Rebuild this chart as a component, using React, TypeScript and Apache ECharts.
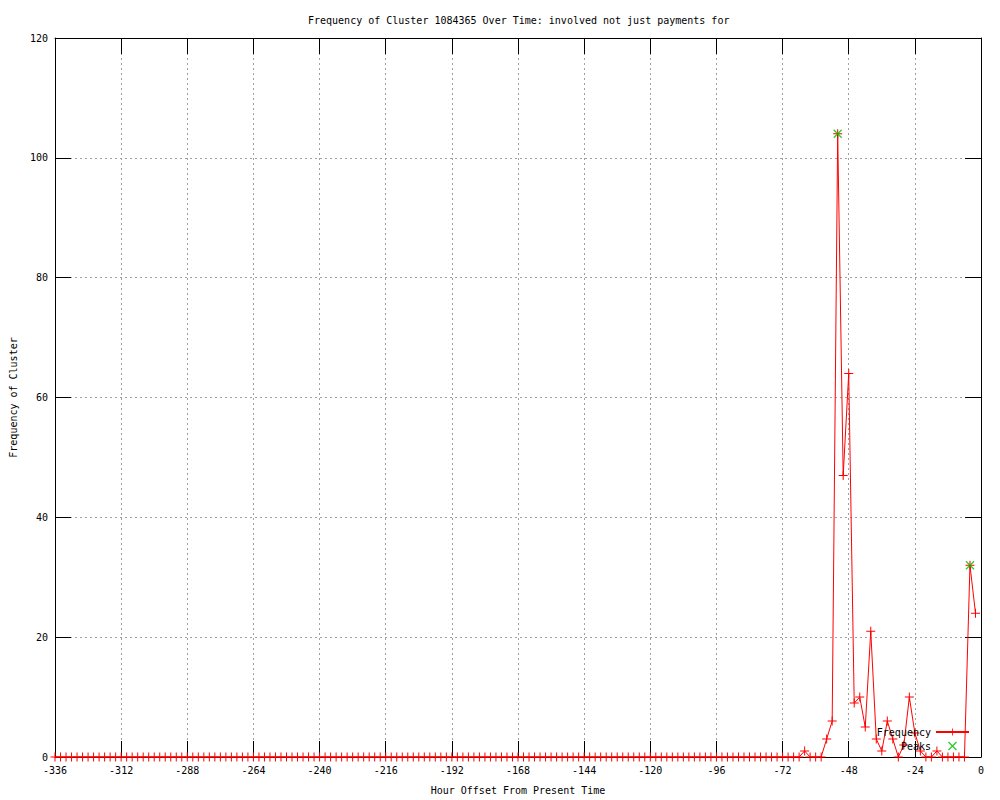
import React, { useEffect, useRef } from "react";
import * as echarts from "echarts";

const FONT = '"DejaVu Sans Mono", "Liberation Mono", monospace';

const titleText = "Frequency of Cluster 1084365 Over Time: involved not just payments for";
const xAxisTitle = "Hour Offset From Present Time";
const yAxisTitle = "Frequency of Cluster";

// sampling of the series: one point every 2 hours starting at -336
const hourStart = -336;
const hourStep = 2;

const frequency = [
  0, 0, 0, 0, 0, 0, 0, 0, 0, 0, 0, 0,
  0, 0, 0, 0, 0, 0, 0, 0, 0, 0, 0, 0,
  0, 0, 0, 0, 0, 0, 0, 0, 0, 0, 0, 0,
  0, 0, 0, 0, 0, 0, 0, 0, 0, 0, 0, 0,
  0, 0, 0, 0, 0, 0, 0, 0, 0, 0, 0, 0,
  0, 0, 0, 0, 0, 0, 0, 0, 0, 0, 0, 0,
  0, 0, 0, 0, 0, 0, 0, 0, 0, 0, 0, 0,
  0, 0, 0, 0, 0, 0, 0, 0, 0, 0, 0, 0,
  0, 0, 0, 0, 0, 0, 0, 0, 0, 0, 0, 0,
  0, 0, 0, 0, 0, 0, 0, 0, 0, 0, 0, 0,
  0, 0, 0, 0, 0, 0, 0, 0, 0, 0, 0, 0,
  0, 0, 0, 0, 1, 0, 0, 0, 3, 6, 104, 47,
  64, 9, 10, 5, 21, 3, 1, 6, 3, 0, 2, 10,
  4, 1, 0, 0, 1, 0, 0, 0, 0, 0, 32, 24,
];

const peakHours = [-52, -4];
const peakValues = [104, 32];

const PLUS = "path://M4,0H5V9H4Z M0,4H9V5H0Z";
const CROSS =
  "path://M0,1L1,0L4.5,3.5L8,0L9,1L5.5,4.5L9,8L8,9L4.5,5.5L1,9L0,8L3.5,4.5Z";

export default function App() {
  const ref = useRef<HTMLDivElement>(null);

  useEffect(() => {
    if (!ref.current) return;
    const chart = echarts.init(ref.current, undefined, { renderer: "svg" });

    const freqData = frequency.map((v, i) => [hourStart + i * hourStep, v]);
    const peakData = peakHours.map((h, i) => [h, peakValues[i]]);

    const axisLine = { show: true, onZero: false, lineStyle: { color: "#000", width: 1 } };
    const axisTick = { show: true, inside: true, length: 16, lineStyle: { color: "#000", width: 1 } };
    const labelStyle = { color: "#000", fontFamily: FONT, fontSize: 10 };
    const splitLine = { show: true, lineStyle: { color: "#a0a0a0", width: 1, type: [2, 3] as any } };

    chart.setOption({
      animation: false,
      backgroundColor: "#fff",
      textStyle: { fontFamily: FONT },
      title: {
        text: titleText,
        left: 303,
        top: 10,
        textStyle: { ...labelStyle, fontWeight: "normal" },
      },
      grid: { left: 55, right: 19, top: 38, bottom: 40 },
      legend: {
        data: ["Frequency", "Peaks"],
        orient: "vertical",
        align: "right",
        right: 30,
        top: 727,
        padding: 0,
        itemWidth: 33,
        itemHeight: 9,
        itemGap: 4,
        textStyle: { ...labelStyle },
      },
      xAxis: [
        {
          type: "value",
          position: "bottom",
          min: -336,
          max: 0,
          interval: 24,
          name: xAxisTitle,
          nameLocation: "middle",
          nameGap: 28,
          nameTextStyle: { ...labelStyle },
          axisLine,
          axisTick,
          axisLabel: { ...labelStyle, margin: 8 },
          splitLine,
        },
        {
          type: "value",
          position: "top",
          min: -336,
          max: 0,
          interval: 24,
          axisLine,
          axisTick,
          axisLabel: { show: false },
          splitLine: { show: false },
        },
      ],
      yAxis: [
        {
          type: "value",
          position: "left",
          min: 0,
          max: 120,
          interval: 20,
          name: yAxisTitle,
          nameLocation: "middle",
          nameRotate: 90,
          nameGap: 37,
          nameTextStyle: { ...labelStyle },
          axisLine,
          axisTick,
          axisLabel: { ...labelStyle, margin: 7 },
          splitLine,
        },
        {
          type: "value",
          position: "right",
          min: 0,
          max: 120,
          interval: 20,
          axisLine,
          axisTick,
          axisLabel: { show: false },
          splitLine: { show: false },
        },
      ],
      series: [
        {
          name: "Frequency",
          type: "line",
          xAxisIndex: 0,
          yAxisIndex: 0,
          data: freqData,
          symbol: PLUS,
          symbolSize: 9,
          showSymbol: true,
          showAllSymbol: true,
          lineStyle: { color: "#ff0000", width: 1 },
          itemStyle: { color: "#ff0000" },
          emphasis: { disabled: true },
          z: 2,
        },
        {
          name: "Peaks",
          type: "scatter",
          xAxisIndex: 0,
          yAxisIndex: 0,
          data: peakData,
          symbol: CROSS,
          symbolSize: 9,
          itemStyle: { color: "#00c000" },
          emphasis: { disabled: true },
          z: 3,
        },
      ],
    });

    return () => chart.dispose();
  }, []);

  return (
    <div
      ref={ref}
      style={{ position: "absolute", left: 0, top: 0, width: 1000, height: 800 }}
    />
  );
}
